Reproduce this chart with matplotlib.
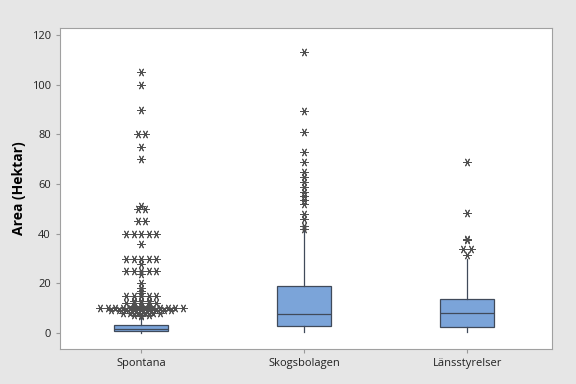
import numpy as np
import matplotlib.pyplot as plt

plt.rcParams['font.family'] = ['Open Sans', 'DejaVu Sans']

categories = ['Spontana', 'Skogsbolagen', 'Länsstyrelser']

# box statistics
q1 = [0.8, 2.8, 2.3]
med = [1.6, 7.6, 8.0]
q3 = [3.2, 18.9, 13.9]
whislo = [0.0, 0.5, 0.5]
whishi = [6.5, 41.4, 30.0]

# outliers: (value, count of identical values)
out_spontana = [(105, 1), (100, 1), (90, 1), (80, 2), (75, 1), (70, 1), (51, 1), (50, 2),
                (45, 2), (40, 5), (36, 1), (30, 5), (28, 1), (25, 5), (24, 1), (20, 1),
                (18, 1), (17, 1), (16, 1), (15, 5), (13, 3), (12, 5), (11, 3), (10, 12),
                (9.3, 9), (8, 6), (7.2, 3), (6.8, 1)]
out_skogs = [(113, 1), (89.5, 1), (81, 1), (72.8, 1), (69, 1), (64.8, 1), (62.8, 1),
             (60.8, 1), (58.8, 1), (56.8, 1), (55.4, 1), (53.4, 1), (52, 1), (48, 1),
             (46, 1), (43, 1), (42, 1)]
out_lans = [(68.8, 1), (48.3, 1), (38, 1), (37.3, 1), (33.7, 2), (31.6, 1)]
outliers = [out_spontana, out_skogs, out_lans]

fig = plt.figure(figsize=(5.76, 3.84), dpi=100, facecolor='#e6e6e6')
ax = fig.add_axes([0.104, 0.091, 0.854, 0.836])

stats = []
for i in range(len(categories)):
    stats.append(dict(med=med[i], q1=q1[i], q3=q3[i], whislo=whislo[i],
                      whishi=whishi[i], fliers=[], label=categories[i]))

ax.bxp(stats, positions=[1, 2, 3], widths=0.33, patch_artist=True, showcaps=False,
       boxprops=dict(facecolor='#7ba4d9', edgecolor='#404a5a', linewidth=0.9),
       medianprops=dict(color='#404a5a', linewidth=0.9),
       whiskerprops=dict(color='#404a5a', linewidth=0.9))

step = 0.046
for i, outs in enumerate(outliers):
    for val, n in outs:
        xs = i + 1 + (np.arange(n) - (n - 1) / 2) * step
        ax.plot(xs, [val] * n, linestyle='none', marker=(6, 2, 30), markersize=6,
                markeredgewidth=0.7, color='#505050')

ax.set_xlim(0.5, 3.52)
ax.set_ylim(-6.4, 122.8)
ax.set_yticks(np.arange(0, 121, 20))
ax.set_xticks([1, 2, 3])
ax.set_xticklabels(categories)
ax.tick_params(labelsize=8, colors='#222222', length=3, color='#999999')
ax.set_ylabel('Area (Hektar)', fontsize=10, fontweight='bold')
for s in ax.spines.values():
    s.set_color('#a0a0a0')

fig.savefig('out.png', dpi=100, facecolor=fig.get_facecolor())
